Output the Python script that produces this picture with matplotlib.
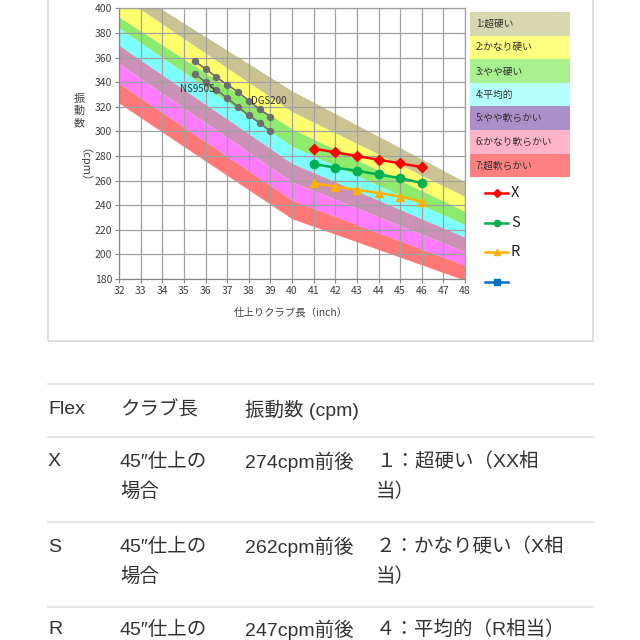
import matplotlib
matplotlib.use('Agg')
import matplotlib.pyplot as plt
from matplotlib.patches import Rectangle
from matplotlib.lines import Line2D

CHART_FONT = ['Noto Sans CJK JP', 'DejaVu Sans']
TABLE_FONT = ['Liberation Sans', 'Noto Sans CJK JP']
plt.rcParams['font.family'] = CHART_FONT

# --- data -------------------------------------------------------------
band_len = [32, 40, 48]
# boundaries of the flex bands, top of band 1 down to bottom of band 7
band_edges = [
    [421, 333, 259],
    [411, 316, 247],
    [393, 302, 235],
    [384, 288, 224],
    [370, 274, 214],
    [355, 259, 202],
    [339, 244, 191],
    [323, 229, 179],
]
band_labels = ['1:超硬い', '2:かなり硬い', '3:やや硬い', '4:平均的',
               '5:やや軟らかい', '6:かなり軟らかい', '7:超軟らかい']
band_colors = ['#C9C393', '#FFFF6E', '#8DEB6C', '#7CFFFF',
               '#CC92B5', '#FF7BFF', '#FF7777']
legend_colors = ['#D8D8B0', '#FFFF80', '#A8F090', '#B4FFFF',
                 '#AA90C8', '#FFB4CA', '#FF8080']

lengths = [41, 42, 43, 44, 45, 46]
flex_x = [286, 283, 280, 277, 274, 271]
flex_s = [273.5, 270.5, 268, 265, 262, 258]
flex_r = [258, 255, 252.5, 250, 247, 243]

shaft_len = [35.5, 36, 36.5, 37, 37.5, 38, 38.5, 39]
shaft_upper = [357, 351, 344, 338, 332, 325, 318, 312]
shaft_lower = [347, 340, 334, 327, 320, 313, 307, 300]

table_head = ['Flex', 'クラブ長', '振動数 (cpm)']
table_rows = [
    ['X', '45″仕上の\n場合', '274cpm前後', '１：超硬い（XX相\n当）'],
    ['S', '45″仕上の\n場合', '262cpm前後', '２：かなり硬い（X相\n当）'],
    ['R', '45″仕上の', '247cpm前後', '４：平均的（R相当）'],
]

# --- helpers (pixel -> figure fraction) -------------------------------
W = H = 640
def fx(px):
    return px / W

def fy(py):
    return 1 - py / H

fig = plt.figure(figsize=(6.4, 6.4), dpi=100, facecolor='white')

# chart frame
fig.add_artist(Rectangle((fx(48), fy(341)), fx(593) - fx(48), 341 / H + 0.01,
                         transform=fig.transFigure, fill=False,
                         ec='#D9D9D9', lw=1.2))

ax = fig.add_axes([fx(119), fy(279), fx(465) - fx(119), (279 - 8.4) / H])
for i in range(7):
    ax.fill_between(band_len, band_edges[i], band_edges[i + 1],
                    color=band_colors[i], lw=0, zorder=0.5)

ax.set_xlim(32, 48)
ax.set_ylim(180, 400)
ax.set_xticks(range(32, 49))
ax.set_yticks(range(180, 401, 20))
ax.grid(True, color='#A0A0A0', lw=0.9)
for s in ax.spines.values():
    s.set_color('#A0A0A0')
    s.set_linewidth(0.9)
ax.spines['left'].set_color('#888888')
ax.spines['bottom'].set_color('#888888')
ax.tick_params(length=3, color='#888888', labelsize=7.5,
               labelcolor='#404040', pad=2)

ax.plot(shaft_len, shaft_upper, '-o', color='#6E6E6E', lw=1.2, ms=4.3, zorder=3)
ax.plot(shaft_len, shaft_lower, '-o', color='#6E6E6E', lw=1.2, ms=4.3, zorder=3)
ax.text(36.45, 334.5, 'NS950S', ha='right', va='center', fontsize=7,
        color='#333333', zorder=4)
ax.text(38.1, 324.7, 'DGS200', ha='left', va='center', fontsize=7,
        color='#333333', zorder=4)

ax.plot(lengths, flex_x, '-D', color='#FF0000', lw=1.8, ms=5, zorder=3)
ax.plot(lengths, flex_s, '-o', color='#00B050', lw=1.8, ms=6, zorder=3)
ax.plot(lengths, flex_r, '-^', color='#FFB000', lw=1.8, ms=6, zorder=3)

# axis titles
fig.text(fx(291), fy(313), '仕上りクラブ長（inch）', ha='center', va='center',
         fontsize=7.5, color='#404040')
for k, ch in enumerate('振動数'):
    fig.text(fx(79), fy(99 + k * 12), ch, ha='center', va='center',
             fontsize=8, color='#404040')
fig.text(fx(79), fy(171), '（cpm）', ha='center', va='center',
         fontsize=8, color='#404040', rotation=-90)

# band legend
box_h = 23.6
for i, (lab, col) in enumerate(zip(band_labels, legend_colors)):
    top = 12 + i * box_h
    fig.add_artist(Rectangle((fx(470), fy(top + box_h)), fx(100), box_h / H,
                             transform=fig.transFigure, color=col, lw=0))
    fig.text(fx(476), fy(top + box_h / 2), lab, ha='left', va='center',
             fontsize=7, color='#303030')

# series legend
series_leg = [('X', '#FF0000', 'D', 4), ('S', '#00B050', 'o', 4.5),
              ('R', '#FFB000', '^', 5), ('', '#0070C0', 's', 4)]
for i, (lab, col, mk, ms) in enumerate(series_leg):
    y = 193 + i * 29.7
    fig.add_artist(Line2D([fx(485), fx(508)], [fy(y), fy(y)],
                          transform=fig.transFigure, color=col, lw=1.8))
    fig.add_artist(Line2D([fx(496.5)], [fy(y)], transform=fig.transFigure,
                          color=col, marker=mk, ms=ms))
    fig.text(fx(511), fy(y), lab, ha='left', va='center', fontsize=10.5,
             color='#202020')

# table below the chart
for y in [384, 437, 522, 607]:
    fig.add_artist(Line2D([fx(48), fx(593)], [fy(y), fy(y)],
                          transform=fig.transFigure, color='#E2E2E2', lw=1.3))

col_x = [48, 120, 245, 376]
for j, txt in enumerate(table_head):
    fig.text(fx(col_x[j]), fy(410), txt, ha='left', va='center',
             fontsize=14, color='#333333', family=TABLE_FONT)

row_y = [462, 547, 630]
for r, row in enumerate(table_rows):
    for j, txt in enumerate(row):
        for k, line in enumerate(txt.split('\n')):
            fig.text(fx(col_x[j]), fy(row_y[r] + k * 30), line, ha='left',
                     va='center', fontsize=14, color='#333333',
                     family=TABLE_FONT)

fig.savefig('out.png', dpi=100, facecolor='white')
